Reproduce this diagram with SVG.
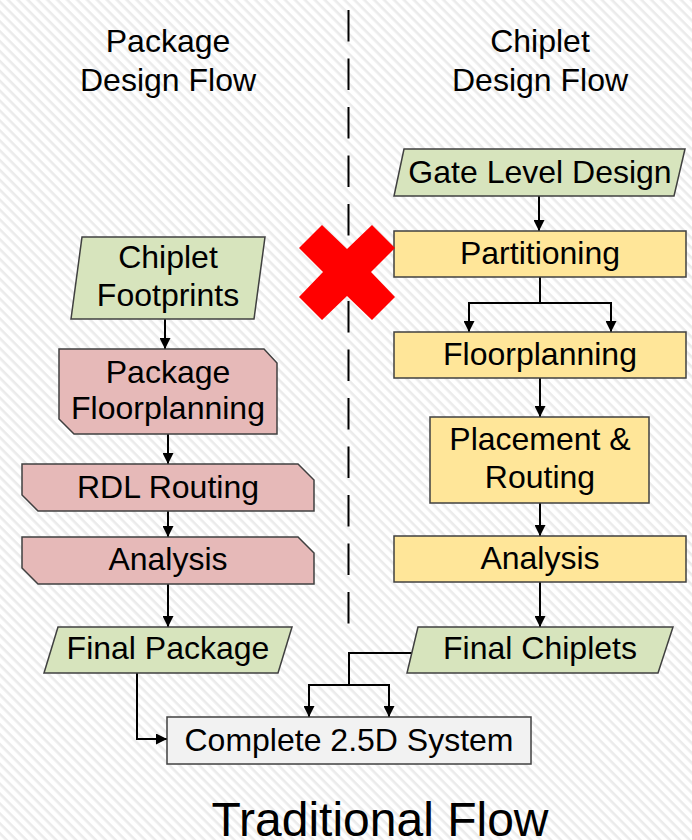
<svg xmlns="http://www.w3.org/2000/svg" width="692" height="840" viewBox="0 0 692 840">
  <defs>
    <pattern id="stripes" patternUnits="userSpaceOnUse" width="7" height="7" patternTransform="rotate(45)">
      <rect x="0" y="0" width="7" height="2.6" fill="#ebebeb"/>
    </pattern>
    <marker id="arrow" viewBox="0 0 10 10" refX="10" refY="5" markerWidth="5.5" markerHeight="5.5" orient="auto" markerUnits="strokeWidth">
      <path d="M0,0 L10,5 L0,10 Z" fill="#000"/>
    </marker>
    <style>
      .lbl { font-family: "Liberation Sans", Arial, sans-serif; font-size: 32px; fill: #000; text-anchor: middle; }
      .big { font-size: 48px; }
      .io { fill: #d7e4bd; stroke: #404040; stroke-width: 1.5; }
      .pkg { fill: #e6b9b8; stroke: #404040; stroke-width: 1.5; }
      .chp { fill: #ffe699; stroke: #404040; stroke-width: 1.5; }
      .sys { fill: #f2f2f2; stroke: #404040; stroke-width: 1.5; }
      .conn { fill: none; stroke: #000; stroke-width: 2; }
    </style>
  </defs>

  <!-- background -->
  <rect width="692" height="840" fill="#ffffff"/>
  <rect width="692" height="840" fill="url(#stripes)"/>

  <!-- divider between the two flows -->
  <line x1="348.5" y1="10" x2="348.5" y2="623.5" stroke="#000" stroke-width="2" stroke-dasharray="31.5 17"/>

  <!-- column headings -->
  <g id="heading-package">
    <text class="lbl" x="168" y="52">Package</text>
    <text class="lbl" x="168" y="91">Design Flow</text>
  </g>
  <g id="heading-chiplet">
    <text class="lbl" x="540" y="52">Chiplet</text>
    <text class="lbl" x="540" y="91">Design Flow</text>
  </g>

  <!-- connectors -->
  <g id="connectors">
    <!-- package flow -->
    <line class="conn" x1="165" y1="319" x2="165" y2="349" marker-end="url(#arrow)"/>
    <line class="conn" x1="168" y1="434" x2="168" y2="464" marker-end="url(#arrow)"/>
    <line class="conn" x1="168" y1="511" x2="168" y2="537" marker-end="url(#arrow)"/>
    <line class="conn" x1="168" y1="584" x2="168" y2="627" marker-end="url(#arrow)"/>
    <polyline class="conn" points="137,673 137,739 167,739" marker-end="url(#arrow)"/>
    <!-- chiplet flow -->
    <line class="conn" x1="539" y1="196" x2="539" y2="231" marker-end="url(#arrow)"/>
    <polyline class="conn" points="540,277 540,303 469,303 469,332" marker-end="url(#arrow)"/>
    <polyline class="conn" points="540,303 611,303 611,332" marker-end="url(#arrow)"/>
    <line class="conn" x1="540" y1="378" x2="540" y2="417" marker-end="url(#arrow)"/>
    <line class="conn" x1="540" y1="503" x2="540" y2="536" marker-end="url(#arrow)"/>
    <line class="conn" x1="540" y1="582" x2="540" y2="627" marker-end="url(#arrow)"/>
    <polyline class="conn" points="412,653 349,653 349,685 309,685 309,717" marker-end="url(#arrow)"/>
    <polyline class="conn" points="349,685 389,685 389,717" marker-end="url(#arrow)"/>
  </g>

  <!-- package design flow nodes -->
  <g id="chiplet-footprints">
    <polygon class="io" points="82,237 265,237 254,319 71,319"/>
    <text class="lbl" x="168" y="268">Chiplet</text>
    <text class="lbl" x="168" y="306">Footprints</text>
  </g>
  <g id="package-floorplanning">
    <polygon class="pkg" points="59,349 264,349 277,363 277,434 74,434 59,419"/>
    <text class="lbl" x="168" y="383">Package</text>
    <text class="lbl" x="168" y="419">Floorplanning</text>
  </g>
  <g id="rdl-routing">
    <polygon class="pkg" points="22,464 298,464 314,480 314,511 38,511 22,495"/>
    <text class="lbl" x="168" y="498">RDL Routing</text>
  </g>
  <g id="package-analysis">
    <polygon class="pkg" points="22,537 298,537 314,553 314,584 38,584 22,568"/>
    <text class="lbl" x="168" y="570">Analysis</text>
  </g>
  <g id="final-package">
    <polygon class="io" points="58,627 292,627 278,673 44,673"/>
    <text class="lbl" x="168" y="659">Final Package</text>
  </g>

  <!-- chiplet design flow nodes -->
  <g id="gate-level-design">
    <polygon class="io" points="404,149 685,149 674,196 394,196"/>
    <text class="lbl" x="540" y="183">Gate Level Design</text>
  </g>
  <g id="partitioning">
    <rect class="chp" x="394" y="231" width="292" height="46"/>
    <text class="lbl" x="540" y="264">Partitioning</text>
  </g>
  <g id="floorplanning">
    <rect class="chp" x="394" y="332" width="292" height="46"/>
    <text class="lbl" x="540" y="365">Floorplanning</text>
  </g>
  <g id="placement-routing">
    <rect class="chp" x="430" y="417" width="219" height="86"/>
    <text class="lbl" x="540" y="450">Placement &amp;</text>
    <text class="lbl" x="540" y="488">Routing</text>
  </g>
  <g id="chiplet-analysis">
    <rect class="chp" x="394" y="536" width="292" height="46"/>
    <text class="lbl" x="540" y="569">Analysis</text>
  </g>
  <g id="final-chiplets">
    <polygon class="io" points="418,627 673,627 658,673 407,673"/>
    <text class="lbl" x="540" y="659">Final Chiplets</text>
  </g>

  <!-- integration result -->
  <g id="complete-system">
    <rect class="sys" x="167" y="717" width="364" height="47"/>
    <text class="lbl" x="349" y="751">Complete 2.5D System</text>
  </g>

  <!-- crossed-out mark on the divider -->
  <g id="cross-mark">
    <polygon fill="#ff0000" points="322,225 347,249 372,225 395,248 371,272 395,297 372,320 347,296 322,320 299,297 323,272 299,248"/>
  </g>

  <!-- caption -->
  <text class="lbl big" x="380" y="836">Traditional Flow</text>
</svg>
